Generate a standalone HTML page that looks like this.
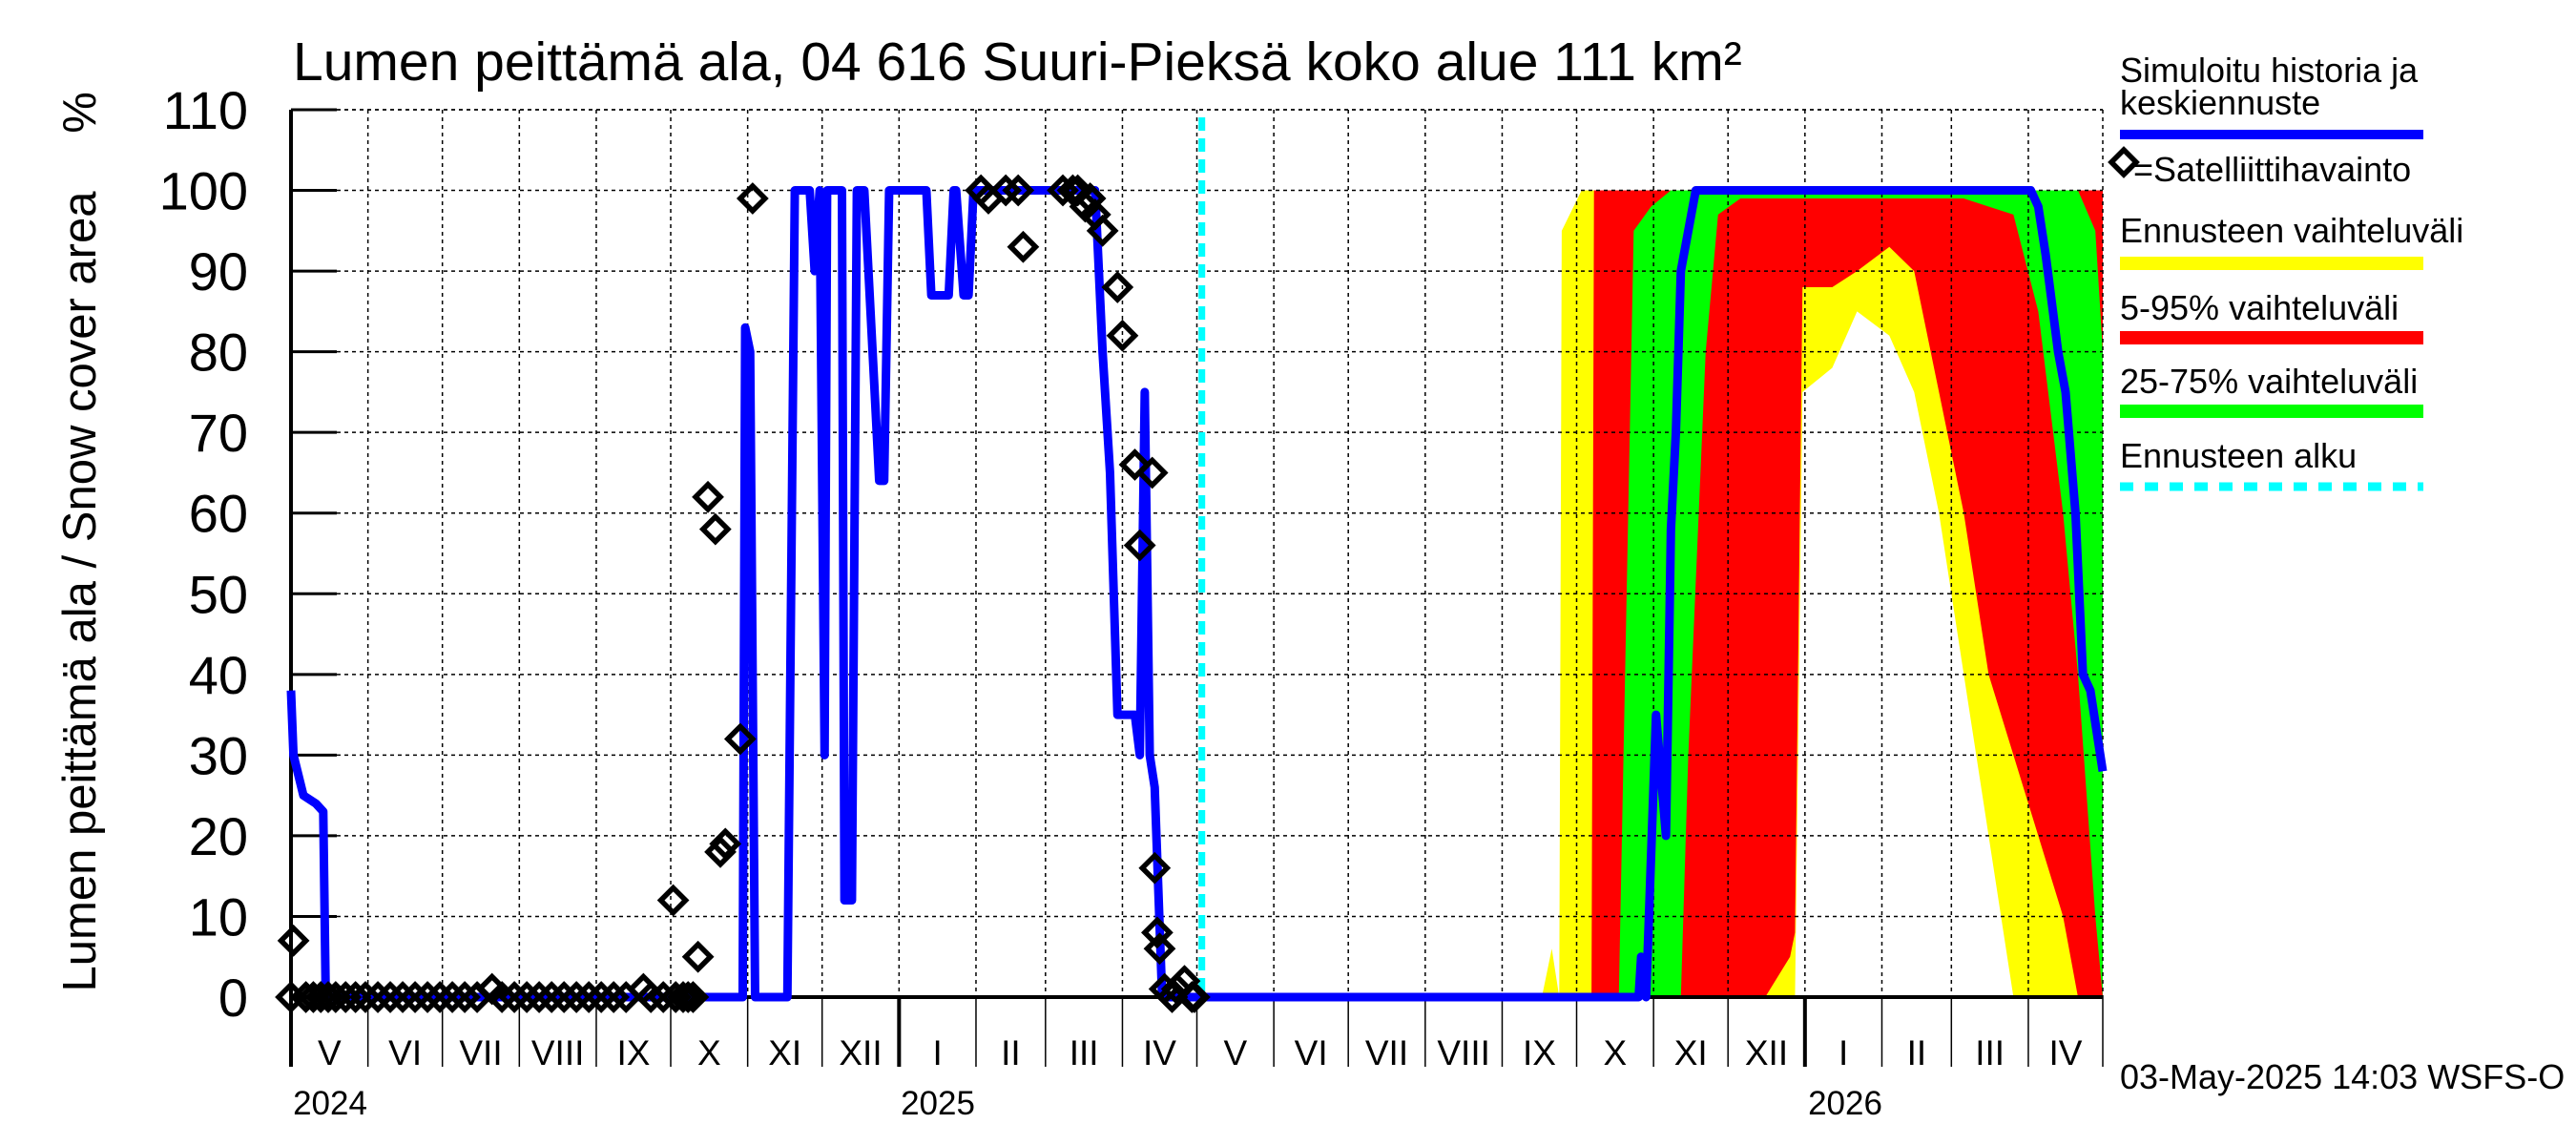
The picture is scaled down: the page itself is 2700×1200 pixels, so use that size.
<!DOCTYPE html>
<html><head><meta charset="utf-8"><style>
html,body{margin:0;padding:0;background:#fff;}
svg{display:block;font-family:"Liberation Sans",sans-serif;}
</style></head><body>
<svg id="chart" width="2700" height="1200" viewBox="0 0 2700 1200" xmlns="http://www.w3.org/2000/svg">
<rect x="0" y="0" width="2700" height="1200" fill="#fff"/>
<text x="307" y="84" font-size="57">Lumen peittämä ala, 04 616 Suuri-Pieksä koko alue 111 km²</text>
<text transform="translate(100,620) rotate(-90)" text-anchor="middle" font-size="49">Lumen peittämä ala / Snow cover area</text>
<text transform="translate(100,118) rotate(-90)" text-anchor="middle" font-size="49">%</text>
<g id="bands"></g>
<g id="grid"></g>
<g id="axes"></g>
<g id="series"></g>
<g id="legend">
<text x="2222" y="86" font-size="36">Simuloitu historia ja</text>
<text x="2222" y="120" font-size="36">keskiennuste</text>
<line x1="2222" y1="141" x2="2540" y2="141" stroke="#0000ff" stroke-width="10"/>
<path d="M2226,157 l13,13 l-13,13 l-13,-13 z" fill="none" stroke="#000" stroke-width="5.5"/>
<text x="2236" y="190" font-size="36">=Satelliittihavainto</text>
<text x="2222" y="254" font-size="36">Ennusteen vaihteluväli</text>
<line x1="2222" y1="276" x2="2540" y2="276" stroke="#ffff00" stroke-width="14"/>
<text x="2222" y="335" font-size="36">5-95% vaihteluväli</text>
<line x1="2222" y1="354" x2="2540" y2="354" stroke="#ff0000" stroke-width="14"/>
<text x="2222" y="412" font-size="36">25-75% vaihteluväli</text>
<line x1="2222" y1="431" x2="2540" y2="431" stroke="#00ff00" stroke-width="14"/>
<text x="2222" y="490" font-size="36">Ennusteen alku</text>
<line x1="2222" y1="510" x2="2540" y2="510" stroke="#00ffff" stroke-width="9" stroke-dasharray="14,12"/>
</g>
<text x="2222" y="1141" font-size="36">03-May-2025 14:03 WSFS-O</text>
</svg>
<script>
// ---- data ----
const yTicks = [0,10,20,30,40,50,60,70,80,90,100,110];
const monthLabels = ["V","VI","VII","VIII","IX","X","XI","XII","I","II","III","IV","V","VI","VII","VIII","IX","X","XI","XII","I","II","III","IV"];
const yearLabels = ["2024","2025","2026"];
// simulated history + median forecast: day index from 2024-05-01
const simDays = [0,1,5,10,13,14,182,183,185,187,200,203,209,211,213,215,216,219,222,223,226,228,231,237,239,241,250,256,258,265,267,268,271,273,275,324,327,330,333,340,342,344,346,348,351,360,543,544,546,550,554,556,558,560,563,566,570,701,704,707,712,715,719,722,725,730];
const simVals = [38,30,25,24,23,0,0,83,80,0,0,100,100,90,100,30,100,100,100,12,12,100,100,64,64,100,100,100,87,87,100,100,87,87,100,100,80,65,35,35,30,75,30,26,0,0,0,5,0,35,20,58,70,90,95,100,100,100,98,92,80,75,60,40,38,28];
// satellite observations
const satDays = [0,1,6,9,12,15,18,22,26,30,35,40,45,50,55,60,65,70,75,81,85,90,95,100,105,110,115,120,125,130,135,142,145,150,155,158,160,162,154,164,168,171,173,175,181,186,278,281,288,293,295,311,315,317,320,322,324,327,333,335,340,342,347,348,349,350,352,355,357,360,363,364];
const satVals = [0,7,0,0,0,0,0,0,0,0,0,0,0,0,0,0,0,0,0,1,0,0,0,0,0,0,0,0,0,0,0,1,0,0,0,0,0,0,12,5,62,58,18,19,32,99,100,99,100,100,93,100,100,100,98,99,97,95,88,82,66,56,65,16,8,6,1,0,1,2,0,0];
// forecast bands
const bandDays = [504,508,511,512,520,524,525,535,541,548,556,560,563,570,575,584,594,604,606,609,621,631,644,654,664,674,684,694,704,714,720,727,730];
const yMin = [0,0,0,0,0,0,0,0,0,0,0,0,0,0,0,0,0,0,0,75,78,85,82,75,60,40,20,0,0,0,0,0,0];
const yMax = [0,6,0,95,100,100,100,100,100,100,100,100,100,100,100,100,100,100,100,100,100,100,100,100,100,100,100,100,100,100,100,100,100];
const rLo = [0,0,0,0,0,0,0,0,0,0,0,0,0,0,0,0,0,5,8,88,88,90,93,90,75,60,40,30,20,10,0,0,0];
const rHi = [0,0,0,0,0,0,100,100,100,100,100,100,100,100,100,100,100,100,100,100,100,100,100,100,100,100,100,100,100,100,100,100,100];
const gLo = [0,0,0,0,0,0,0,0,0,0,0,0,30,80,97,99,99,99,99,99,99,99,99,99,99,99,98,97,85,60,40,10,0];
const gHi = [0,0,0,0,0,0,0,0,95,98,100,100,100,100,100,100,100,100,100,100,100,100,100,100,100,100,100,100,100,100,100,95,80];
const forecastStartDay = 367;

// ---- scales ----
const X0=305, X1=2204, NDAYS=730, Y0=1045, Y110=115;
const xs = d => X0 + d*(X1-X0)/NDAYS;
const ys = v => Y0 - v*(Y0-Y110)/110;
const NS="http://www.w3.org/2000/svg";
function mk(tag, parent, attrs){const e=document.createElementNS(NS,tag);for(const k in attrs)e.setAttribute(k,attrs[k]);parent.appendChild(e);return e;}
const grid=document.getElementById('grid'), axes=document.getElementById('axes'), series=document.getElementById('series'), bands=document.getElementById('bands');

function band(lo,hi,color,name){
  let pts=bandDays.map((d,i)=>xs(d)+","+ys(hi[i]));
  for(let i=bandDays.length-1;i>=0;i--)pts.push(xs(bandDays[i])+","+ys(lo[i]));
  const p=mk('polygon',bands,{points:pts.join(" "),fill:color});
  
  
}
band(yMin,yMax,"#ffff00","band-min-max");
band(rLo,rHi,"#ff0000","band-5-95");
band(gLo,gHi,"#00ff00","band-25-75");

const start=new Date(Date.UTC(2024,4,1));
const bounds=[];
for(let m=0;m<=24;m++){const dt=new Date(Date.UTC(2024,4+m,1));bounds.push(Math.round((dt-start)/86400000));}
yTicks.forEach(v=>{
  const y=ys(v);
  if(v>0){const l=mk('line',grid,{x1:X0,y1:y,x2:X1,y2:y,stroke:"#000","stroke-width":1.5,"stroke-dasharray":"4,4"});
  
  }
  const t=mk('line',axes,{x1:X0,y1:y,x2:X0+48,y2:y,stroke:"#000","stroke-width":3});
  
  
  const lb=mk('text',axes,{x:260,y:y+20,"text-anchor":"end","font-size":56});
  lb.textContent=v;
  
  
});
bounds.forEach((d,i)=>{
  const x=xs(d);
  if(i>0){const l=mk('line',grid,{x1:x,y1:Y110,x2:x,y2:Y0,stroke:"#000","stroke-width":1.5,"stroke-dasharray":"4,4"});
  
  }
  const yr=(i===8||i===20);
  const t=mk('line',axes,{x1:x,y1:Y0,x2:x,y2:1118,stroke:"#000","stroke-width":yr?4:1.5});
  
  
  if(i<24){const lb=mk('text',axes,{x:(xs(d)+xs(bounds[i+1]))/2,y:1116,"text-anchor":"middle","font-size":37});
  lb.textContent=monthLabels[i];
  
  }
});
[[0,346],[8,983],[20,1934]].forEach((a,i)=>{
  const lb=mk('text',axes,{x:a[1],y:1168,"text-anchor":"middle","font-size":35});
  lb.textContent=yearLabels[i];
  
  
});
let a1=mk('line',axes,{x1:X0,y1:Y110,x2:X0,y2:1118,stroke:"#000","stroke-width":4});


let a2=mk('line',axes,{x1:X0,y1:Y0,x2:X1,y2:Y0,stroke:"#000","stroke-width":4});


let a3=mk('line',grid,{x1:X0,y1:Y110,x2:X1,y2:Y110,stroke:"#000","stroke-width":1.5,"stroke-dasharray":"4,4"});



const fs=mk('line',series,{x1:xs(forecastStartDay),y1:Y110+8,x2:xs(forecastStartDay),y2:Y0,stroke:"#00ffff","stroke-width":7,"stroke-dasharray":"14,8"});



const sl=mk('polyline',series,{points:simDays.map((d,i)=>xs(d)+","+ys(simVals[i])).join(" "),fill:"none",stroke:"#0000ff","stroke-width":9,"stroke-linejoin":"round"});



satDays.forEach((d,i)=>{
  const x=xs(d), y=ys(satVals[i]);
  const p=mk('path',series,{d:`M${x},${y-13} l13,13 l-13,13 l-13,-13 z`,fill:"none",stroke:"#000","stroke-width":5.5});
  
  
});
</script>
</body></html>
